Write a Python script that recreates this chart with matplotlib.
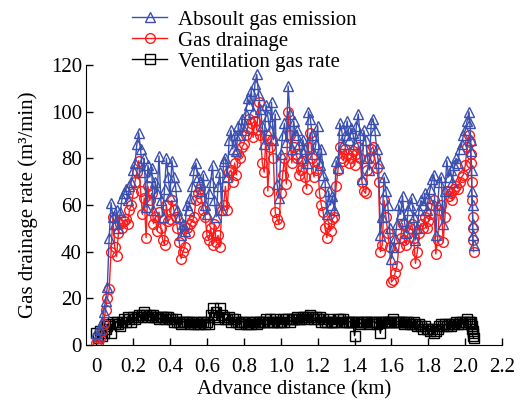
import matplotlib
matplotlib.use("Agg")
import matplotlib.pyplot as plt

plt.rcParams['font.family'] = ['Liberation Serif', 'DejaVu Serif']
plt.rcParams['font.size'] = 15

# advance distance (km)
distance = [0.00, 0.01, 0.02, 0.03, 0.04, 0.05, 0.06, 0.07, 0.08, 0.09,
            0.10, 0.11, 0.12, 0.13, 0.14, 0.15, 0.16, 0.17, 0.18, 0.19,
            0.20, 0.21, 0.22, 0.23, 0.24, 0.25, 0.26, 0.27, 0.28, 0.29,
            0.30, 0.31, 0.32, 0.33, 0.34, 0.35, 0.36, 0.37, 0.38, 0.39,
            0.40, 0.41, 0.42, 0.43, 0.44, 0.45, 0.46, 0.47, 0.48, 0.49,
            0.50, 0.51, 0.52, 0.53, 0.54, 0.55, 0.56, 0.57, 0.58, 0.59,
            0.60, 0.61, 0.62, 0.63, 0.64, 0.65, 0.66, 0.67, 0.68, 0.69,
            0.70, 0.71, 0.72, 0.73, 0.74, 0.75, 0.76, 0.77, 0.78, 0.79,
            0.80, 0.81, 0.82, 0.83, 0.84, 0.85, 0.86, 0.87, 0.88, 0.89,
            0.90, 0.91, 0.92, 0.93, 0.94, 0.95, 0.96, 0.97, 0.98, 0.99,
            1.00, 1.01, 1.02, 1.03, 1.04, 1.05, 1.06, 1.07, 1.08, 1.09,
            1.10, 1.11, 1.12, 1.13, 1.14, 1.15, 1.16, 1.17, 1.18, 1.19,
            1.20, 1.21, 1.22, 1.23, 1.24, 1.25, 1.26, 1.27, 1.28, 1.29,
            1.30, 1.31, 1.32, 1.33, 1.34, 1.35, 1.36, 1.37, 1.38, 1.39,
            1.40, 1.41, 1.42, 1.43, 1.44, 1.45, 1.46, 1.47, 1.48, 1.49,
            1.50, 1.51, 1.52, 1.53, 1.54, 1.55, 1.56, 1.57, 1.58, 1.59,
            1.60, 1.61, 1.62, 1.63, 1.64, 1.65, 1.66, 1.67, 1.68, 1.69,
            1.70, 1.71, 1.72, 1.73, 1.74, 1.75, 1.76, 1.77, 1.78, 1.79,
            1.80, 1.81, 1.82, 1.83, 1.84, 1.85, 1.86, 1.87, 1.88, 1.89,
            1.90, 1.91, 1.92, 1.93, 1.94, 1.95, 1.96, 1.97, 1.98, 1.99,
            2.00, 2.01, 2.02, 2.025, 2.03, 2.03, 2.035, 2.035, 2.04, 2.04, 2.04, 2.045]

# absolute gas emission (m3/min)
absolute = [5, 4, 7, 10, 14, 19, 25, 46, 61, 55,
            52, 58, 50, 57, 63, 65, 67, 62, 68, 70,
            75, 78, 86, 91, 84, 74, 80, 59, 77, 72,
            76, 58, 70, 65, 81, 62, 55, 67, 80, 72,
            64, 79, 72, 68, 58, 55, 47, 52, 49, 60,
            58, 63, 68, 75, 78, 72, 70, 66, 73, 60,
            56, 65, 70, 77, 62, 55, 68, 74, 58, 79,
            80, 72, 88, 92, 84, 90, 83, 94, 90, 97,
            92, 99, 106, 103, 109, 100, 112, 116, 107, 101,
            94, 86, 103, 98, 92, 104, 88, 99, 69, 63,
            82, 90, 95, 87, 111, 99, 84, 96, 90, 92,
            86, 80, 88, 84, 78, 100, 97, 90, 82, 86,
            94, 77, 84, 73, 70, 56, 66, 60, 64, 58,
            79, 76, 95, 92, 86, 90, 96, 88, 93, 91,
            86, 94, 99, 90, 71, 92, 88, 80, 75, 95,
            97, 92, 84, 78, 47, 55, 72, 66, 60, 50,
            37, 42, 46, 52, 60, 56, 64, 53, 48, 58,
            60, 63, 55, 45, 50, 58, 62, 60, 65, 58,
            63, 67, 71, 73, 47, 60, 70, 72, 52, 66,
            79, 72, 75, 70, 77, 80, 78, 84, 86, 90,
            92, 96, 100, 95, 88, 83, 75, 66, 60, 52, 47, 43]

# gas drainage (m3/min)
drainage = [1, 0.5, 3, 6, 9, 15, 20, 24, 40, 55,
            42, 38, 48, 52, 50, 53, 54, 52, 58, 60,
            65, 70, 74, 79, 66, 56, 63, 46, 68, 62,
            65, 52, 55, 49, 57, 50, 45, 43, 60, 53,
            54, 62, 58, 55, 50, 44, 37, 40, 42, 50,
            48, 52, 53, 55, 62, 65, 67, 63, 58, 55,
            47, 45, 50, 43, 52, 44, 47, 42, 58, 60,
            68, 58, 74, 75, 70, 78, 73, 82, 80, 85,
            86, 90, 93, 97, 95, 89, 96, 92, 104, 90,
            78, 74, 90, 66, 85, 88, 80, 57, 54, 52,
            65, 73, 80, 69, 100, 90, 78, 85, 82, 80,
            73, 75, 79, 72, 67, 85, 91, 80, 72, 75,
            78, 65, 60, 57, 50, 46, 52, 49, 54, 55,
            68, 75, 85, 80, 79, 84, 82, 78, 80, 83,
            77, 82, 85, 80, 70, 66, 65, 75, 80, 84,
            85, 80, 76, 70, 40, 43, 62, 55, 48, 42,
            27, 28, 31, 34, 42, 46, 52, 45, 43, 48,
            50, 52, 46, 35, 40, 48, 52, 50, 55, 50,
            53, 56, 60, 62, 39, 45, 58, 60, 44, 55,
            66, 64, 65, 62, 67, 68, 67, 70, 72, 73,
            77, 85, 90, 87, 82, 78, 70, 62, 55, 50, 45, 40]

# ventilation gas rate (m3/min)
ventilation = [5, 3, 6, 4, 5, 7, 8, 9, 5, 10,
               9, 10, 9, 8, 10, 11, 10, 12, 11, 10,
               12, 11, 12, 13, 12, 13, 14, 13, 12, 13,
               12, 13, 12, 12, 11, 12, 12, 11, 12, 12,
               11, 11, 10, 11, 10, 10, 9, 10, 10, 10,
               10, 9, 10, 9, 10, 9, 9, 10, 10, 9,
               10, 9, 13, 16, 12, 14, 11, 16, 13, 12,
               11, 11, 12, 10, 11, 11, 10, 10, 9, 10,
               10, 9, 9, 10, 9, 10, 10, 9, 10, 10,
               10, 10, 11, 10, 11, 10, 10, 11, 10, 10,
               10, 11, 10, 11, 11, 10, 11, 11, 11, 12,
               11, 11, 12, 12, 11, 12, 13, 12, 11, 12,
               11, 12, 10, 11, 10, 10, 11, 10, 10, 10,
               10, 11, 11, 10, 11, 10, 10, 10, 10, 10,
               4, 10, 10, 9, 10, 10, 10, 10, 9, 10,
               10, 10, 9, 10, 5, 10, 10, 10, 10, 10,
               10, 11, 10, 10, 10, 10, 10, 9, 10, 10,
               9, 9, 10, 9, 8, 9, 8, 7, 8, 7,
               7, 6, 7, 5, 6, 7, 8, 9, 8, 9,
               8, 9, 8, 9, 9, 10, 9, 10, 10, 9,
               10, 11, 10, 10, 10, 9, 8, 7, 6, 5, 4, 3]

fig = plt.figure(figsize=(5.22, 4.0), dpi=100)
ax = fig.add_axes([0.165, 0.1375, 0.797, 0.70])

l3, = ax.plot(distance, ventilation, '-s', color='black', mfc='none', mec='black',
              markersize=6.5, linewidth=1, label='Ventilation gas rate')
l2, = ax.plot(distance, drainage, '-o', color='#ff1a1a', mfc='none', mec='#ff1a1a',
              markersize=7, linewidth=1, label='Gas drainage')
l1, = ax.plot(distance, absolute, '-^', color='#3a4fb0', mfc='none', mec='#3a4fb0',
              markersize=7.5, linewidth=1, label='Absoult gas emission')

ax.set_xlim(-0.055, 2.2)
ax.set_ylim(0, 120)
ax.set_xticks([0, 0.2, 0.4, 0.6, 0.8, 1.0, 1.2, 1.4, 1.6, 1.8, 2.0, 2.2])
ax.set_xticklabels(['0', '0.2', '0.4', '0.6', '0.8', '1.0', '1.2', '1.4',
                    '1.6', '1.8', '2.0', '2.2'])
ax.set_yticks([0, 20, 40, 60, 80, 100, 120])
ax.tick_params(direction='in', length=5, width=1)
ax.tick_params(axis='x', pad=9)
ax.tick_params(axis='y', pad=3)
ax.spines['top'].set_visible(False)
ax.spines['right'].set_visible(False)

ax.set_xlabel('Advance distance (km)', labelpad=3)
ax.set_ylabel('Gas drainage rate (m³/min)', labelpad=9)

fig.legend(handles=[l1, l2, l3], loc='upper left', bbox_to_anchor=(0.253, 0.975),
           frameon=False, handlelength=1.7, handletextpad=0.5, labelspacing=0.07,
           borderpad=0, borderaxespad=0)

fig.savefig('out.png', dpi=100)
